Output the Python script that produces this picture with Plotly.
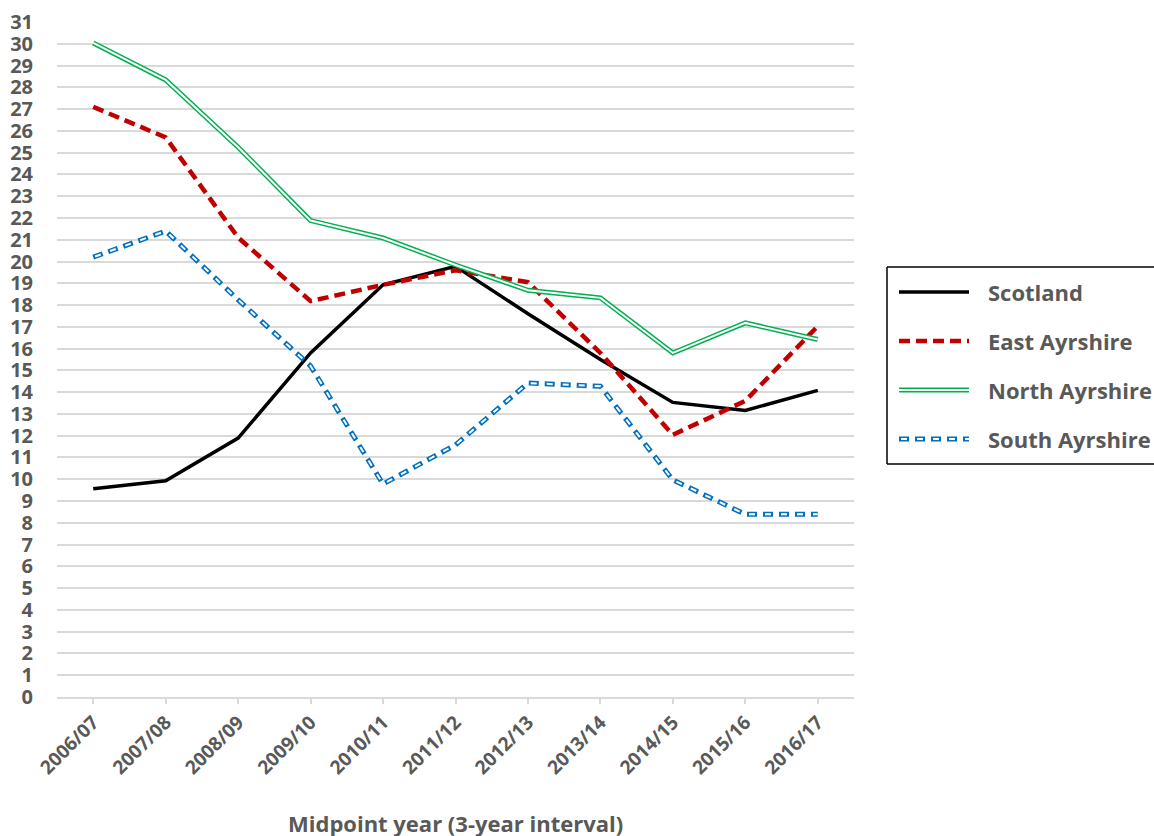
import plotly.graph_objects as go

categories = ["2006/07", "2007/08", "2008/09", "2009/10", "2010/11", "2011/12",
              "2012/13", "2013/14", "2014/15", "2015/16", "2016/17"]
scotland = [9.56, 9.93, 11.89, 15.8, 18.93, 19.78, 17.6, 15.5, 13.53, 13.16, 14.08]
east_ayrshire = [27.1, 25.7, 21.1, 18.18, 18.93, 19.6, 19.05, 15.8, 12.04, 13.6, 17.03]
north_ayrshire = [30.04, 28.34, 25.25, 21.88, 21.08, 19.84, 18.68, 18.33, 15.8, 17.18, 16.42]
south_ayrshire = [20.2, 21.4, 18.24, 15.2, 9.78, 11.58, 14.42, 14.27, 9.97, 8.39, 8.39]
series_names = ["Scotland", "East Ayrshire", "North Ayrshire", "South Ayrshire"]
y_ticks = list(range(0, 32))
x_title = "Midpoint year (3-year interval)"

W, H = 1154, 836
L, R, T, B = 57, 854, 22, 697
GRAY = "#595959"
GRID = "#d9d9d9"
FONT = "Open Sans"
RED, GREEN, BLUE = "#C00000", "#00B050", "#0070C0"


def px_x(px):
    return (px - L) / (R - L)


def px_y(py):
    return (B - py) / (B - T)


fig = go.Figure()
# Scotland: solid black
fig.add_trace(go.Scatter(x=categories, y=scotland, mode="lines", name=series_names[0],
                         line=dict(color="black", width=3.5), showlegend=False))
# East Ayrshire: red dashed
fig.add_trace(go.Scatter(x=categories, y=east_ayrshire, mode="lines", name=series_names[1],
                         line=dict(color=RED, width=4.5, dash="11px,6px"), showlegend=False))
# North Ayrshire: green double line
fig.add_trace(go.Scatter(x=categories, y=north_ayrshire, mode="lines", name=series_names[2],
                         line=dict(color=GREEN, width=5), showlegend=False))
fig.add_trace(go.Scatter(x=categories, y=north_ayrshire, mode="lines", name=series_names[2],
                         line=dict(color="white", width=2), showlegend=False, hoverinfo="skip"))
# South Ayrshire: blue dashed double line
fig.add_trace(go.Scatter(x=categories, y=south_ayrshire, mode="lines", name=series_names[3],
                         line=dict(color=BLUE, width=5, dash="10px,6px"), showlegend=False))
fig.add_trace(go.Scatter(x=categories, y=south_ayrshire, mode="lines", name=series_names[3],
                         line=dict(color="white", width=2, dash="0px,2px,6px,8px"),
                         showlegend=False, hoverinfo="skip"))

shapes = []
annotations = []
# legend box (right side runs off the image)
box = dict(color="black", width=1.5)
bx0, bx1, by0, by1 = px_x(887), px_x(1200), px_y(464), px_y(267)
shapes.append(dict(type="rect", xref="paper", yref="paper", x0=bx0, x1=bx1, y0=by0, y1=by1,
                   line=dict(width=0), fillcolor="white", layer="above"))
shapes.append(dict(type="line", xref="paper", yref="paper", x0=bx0, x1=bx0, y0=by0, y1=by1,
                   line=box, layer="above"))
shapes.append(dict(type="line", xref="paper", yref="paper", x0=bx0, x1=bx1, y0=by0, y1=by0,
                   line=box, layer="above"))
shapes.append(dict(type="line", xref="paper", yref="paper", x0=bx0, x1=bx1, y0=by1, y1=by1,
                   line=box, layer="above"))
legend_rows = [
    (series_names[0], 292, [dict(color="black", width=3.5)]),
    (series_names[1], 341, [dict(color=RED, width=4.5, dash="11px,6px")]),
    (series_names[2], 390, [dict(color=GREEN, width=5), dict(color="white", width=2)]),
    (series_names[3], 439, [dict(color=BLUE, width=5, dash="10px,6px"),
                            dict(color="white", width=2, dash="0px,2px,6px,8px")]),
]
for name, yy, lines in legend_rows:
    for ln in lines:
        shapes.append(dict(type="line", xref="paper", yref="paper",
                           x0=px_x(899), x1=px_x(969), y0=px_y(yy), y1=px_y(yy),
                           line=ln, layer="above"))
    annotations.append(dict(text=name, xref="paper", yref="paper", x=px_x(986), y=px_y(yy),
                            xanchor="left", yanchor="middle", showarrow=False,
                            font=dict(family=FONT, size=22, color=GRAY, weight="bold")))

annotations.append(dict(text=x_title, xref="paper", yref="paper", x=px_x(455), y=px_y(823),
                        xanchor="center", yanchor="middle", showarrow=False,
                        font=dict(family=FONT, size=22, color=GRAY, weight="bold")))

fig.update_layout(
    width=W, height=H,
    margin=dict(l=L, r=W - R, t=T, b=H - B, pad=0, autoexpand=False),
    paper_bgcolor="white", plot_bgcolor="white",
    showlegend=False,
    shapes=shapes, annotations=annotations,
    xaxis=dict(type="category", range=[-0.5, 10.5], showgrid=False, automargin=False,
               showline=True, linecolor=GRID, linewidth=1.5,
               ticks="outside", ticklen=5, tickcolor=GRID, tickwidth=1.5,
               tickangle=-45,
               tickfont=dict(family=FONT, size=19, color=GRAY, weight="bold")),
    yaxis=dict(range=[0, 31], tickvals=y_ticks, ticktext=[str(v) for v in y_ticks],
               showgrid=True, gridcolor=GRID, gridwidth=1.5, automargin=False,
               zeroline=False, showline=False,
               ticks="outside", ticklen=19, tickcolor="rgba(0,0,0,0)",
               tickfont=dict(family=FONT, size=20, color=GRAY, weight="bold")),
)

fig.write_html(
    "out.html",
    config={"displayModeBar": False},
    post_script="document.body.style.margin='0';document.body.style.overflow='hidden';",
)
